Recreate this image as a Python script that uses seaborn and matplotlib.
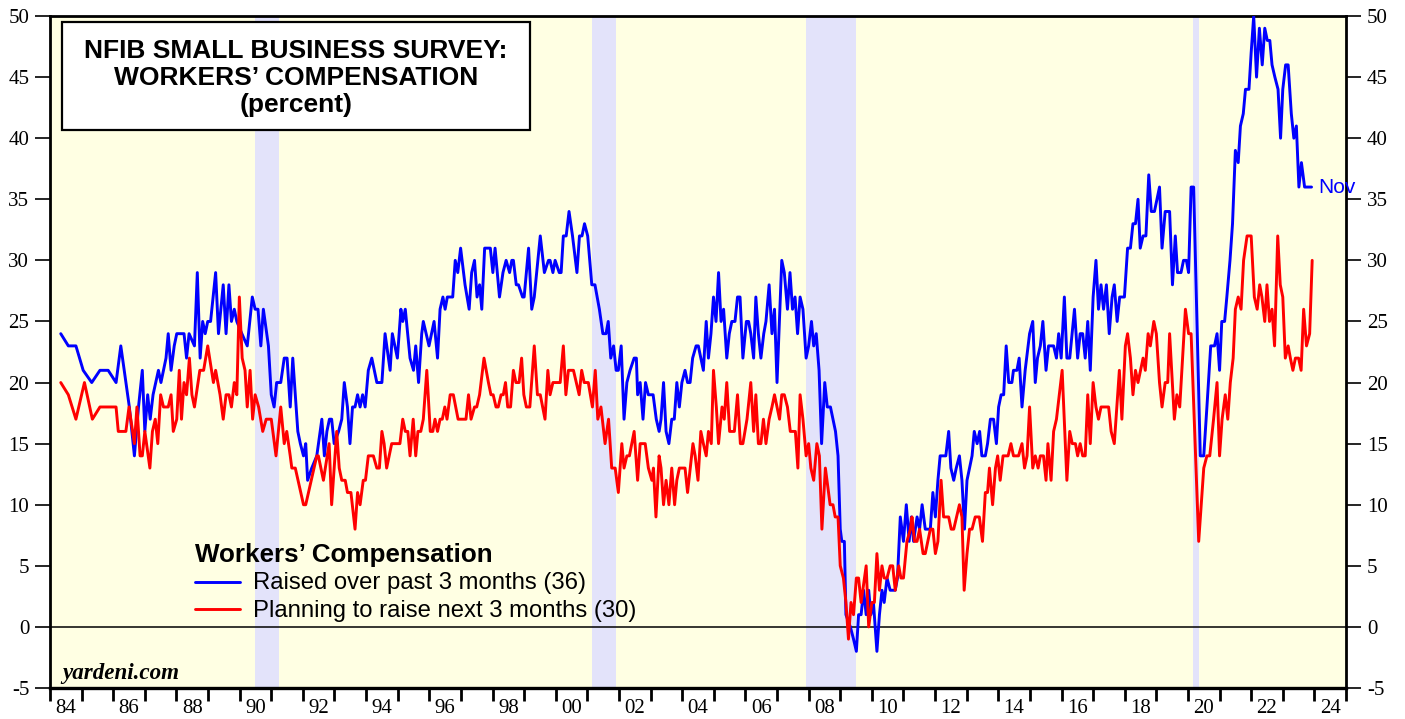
import numpy as np
import pandas as pd
import matplotlib
matplotlib.use("Agg")
import matplotlib.pyplot as plt
import matplotlib.patches as mpatches
from matplotlib.lines import Line2D
import seaborn as sns

# ---------------- data ----------------
blue_t = [
    1984.34, 1984.58, 1984.82, 1985.05, 1985.32, 1985.58, 1985.84, 1986.09, 1986.24, 1986.51,
    1986.67, 1986.80, 1986.92, 1987.00, 1987.09, 1987.17, 1987.26, 1987.43, 1987.51, 1987.67,
    1987.74, 1987.83, 1987.93, 1988.01, 1988.24, 1988.32, 1988.40, 1988.57, 1988.66, 1988.75,
    1988.83, 1988.91, 1988.99, 1989.08, 1989.24, 1989.33, 1989.48, 1989.57, 1989.66, 1989.74,
    1989.83, 1989.91, 1990.07, 1990.24, 1990.40, 1990.49, 1990.58, 1990.67, 1990.75, 1990.91,
    1991.00, 1991.09, 1991.17, 1991.30, 1991.41, 1991.50, 1991.60, 1991.68, 1991.84, 1991.92,
    1992.02, 1992.09, 1992.15, 1992.28, 1992.44, 1992.60, 1992.68, 1992.76, 1992.84, 1992.91,
    1992.99, 1993.13, 1993.23, 1993.31, 1993.41, 1993.49, 1993.57, 1993.65, 1993.73, 1993.81,
    1993.89, 1993.97, 1994.07, 1994.18, 1994.34, 1994.50, 1994.60, 1994.76, 1994.83, 1994.99,
    1995.10, 1995.16, 1995.24, 1995.39, 1995.50, 1995.57, 1995.66, 1995.76, 1995.81, 1995.99,
    1996.15, 1996.26, 1996.34, 1996.43, 1996.50, 1996.57, 1996.74, 1996.82, 1996.90, 1996.99,
    1997.13, 1997.26, 1997.34, 1997.43, 1997.51, 1997.59, 1997.66, 1997.75, 1997.93, 1998.01,
    1998.08, 1998.22, 1998.33, 1998.43, 1998.54, 1998.61, 1998.66, 1998.75, 1998.82, 1998.95,
    1999.00, 1999.14, 1999.24, 1999.32, 1999.51, 1999.64, 1999.77, 1999.82, 1999.91, 1999.98,
    2000.11, 2000.17, 2000.24, 2000.33, 2000.42, 2000.53, 2000.67, 2000.75, 2000.83, 2000.91,
    2001.01, 2001.14, 2001.24, 2001.38, 2001.49, 2001.59, 2001.66, 2001.74, 2001.83, 2001.91,
    2001.98, 2002.07, 2002.16, 2002.25, 2002.35, 2002.48, 2002.55, 2002.59, 2002.67, 2002.76,
    2002.84, 2002.93, 2003.08, 2003.18, 2003.27, 2003.33, 2003.41, 2003.49, 2003.58, 2003.67,
    2003.75, 2003.83, 2003.91, 2003.99, 2004.09, 2004.17, 2004.25, 2004.33, 2004.44, 2004.51,
    2004.59, 2004.67, 2004.76, 2004.83, 2004.91, 2004.99, 2005.07, 2005.15, 2005.23, 2005.31,
    2005.41, 2005.49, 2005.57, 2005.67, 2005.75, 2005.83, 2005.92, 2006.03, 2006.10, 2006.17,
    2006.26, 2006.33, 2006.41, 2006.49, 2006.58, 2006.65, 2006.75, 2006.84, 2006.92, 2007.00,
    2007.15, 2007.23, 2007.33, 2007.41, 2007.49, 2007.57, 2007.65, 2007.73, 2007.82, 2007.92,
    2008.00, 2008.09, 2008.16, 2008.24, 2008.33, 2008.41, 2008.51, 2008.59, 2008.69, 2008.77,
    2008.85, 2008.93, 2009.00, 2009.05, 2009.13, 2009.18, 2009.32, 2009.42, 2009.51, 2009.58,
    2009.66, 2009.74, 2009.82, 2009.90, 2009.97, 2010.05, 2010.16, 2010.24, 2010.32, 2010.39,
    2010.48, 2010.58, 2010.74, 2010.81, 2010.90, 2011.00, 2011.09, 2011.18, 2011.25, 2011.32,
    2011.43, 2011.51, 2011.59, 2011.69, 2011.85, 2011.93, 2012.01, 2012.09, 2012.16, 2012.34,
    2012.43, 2012.50, 2012.59, 2012.67, 2012.77, 2012.85, 2012.93, 2013.01, 2013.09, 2013.17,
    2013.24, 2013.33, 2013.41, 2013.48, 2013.59, 2013.66, 2013.75, 2013.85, 2013.94, 2014.01,
    2014.09, 2014.17, 2014.25, 2014.33, 2014.43, 2014.48, 2014.59, 2014.66, 2014.75, 2014.85,
    2014.99, 2015.09, 2015.17, 2015.24, 2015.33, 2015.41, 2015.51, 2015.59, 2015.75, 2015.84,
    2015.91, 2015.99, 2016.09, 2016.17, 2016.26, 2016.41, 2016.51, 2016.59, 2016.67, 2016.75,
    2016.83, 2016.91, 2017.00, 2017.09, 2017.17, 2017.25, 2017.33, 2017.42, 2017.51, 2017.60,
    2017.67, 2017.76, 2017.84, 2017.99, 2018.09, 2018.18, 2018.26, 2018.34, 2018.42, 2018.49,
    2018.58, 2018.67, 2018.76, 2018.84, 2018.94, 2019.10, 2019.18, 2019.28, 2019.42, 2019.51,
    2019.60, 2019.67, 2019.78, 2019.86, 2019.95, 2020.02, 2020.10, 2020.18, 2020.39, 2020.50,
    2020.60, 2020.72, 2020.84, 2020.92, 2021.00, 2021.07, 2021.16, 2021.23, 2021.33, 2021.41,
    2021.50, 2021.59, 2021.66, 2021.75, 2021.82, 2021.93, 2022.00, 2022.08, 2022.17, 2022.26,
    2022.35, 2022.43, 2022.51, 2022.59, 2022.66, 2022.75, 2022.85, 2022.93, 2023.00, 2023.09,
    2023.17, 2023.27, 2023.35, 2023.43, 2023.51, 2023.59, 2023.69, 2023.78, 2023.91,
]
blue_v = [
    24, 23, 23, 21, 20, 21, 21, 20, 23, 18,
    14, 18, 21, 16, 19, 17, 19, 21, 20, 22,
    24, 21, 23, 24, 24, 22, 24, 23, 29, 22,
    25, 24, 25, 25, 29, 24, 28, 24, 28, 25,
    26, 25, 24, 23, 27, 26, 26, 23, 26, 23,
    19, 18, 20, 20, 22, 22, 18, 22, 16, 15,
    14, 15, 12, 13, 14, 17, 14, 16, 17, 17,
    15, 16, 17, 20, 18, 15, 18, 18, 19, 18,
    19, 18, 21, 22, 20, 20, 24, 21, 24, 22,
    26, 25, 26, 22, 21, 23, 20, 24, 25, 23,
    25, 22, 26, 27, 26, 27, 27, 30, 29, 31,
    28, 26, 29, 30, 27, 28, 26, 31, 31, 29,
    31, 27, 29, 30, 29, 30, 30, 28, 28, 27,
    27, 31, 26, 27, 32, 29, 30, 30, 29, 30,
    29, 29, 32, 32, 34, 32, 29, 32, 32, 33,
    32, 28, 28, 26, 24, 24, 25, 22, 23, 21,
    21, 23, 17, 20, 21, 22, 22, 19, 20, 17,
    20, 19, 19, 17, 16, 17, 20, 16, 15, 17,
    17, 20, 18, 20, 21, 20, 20, 22, 23, 23,
    22, 21, 25, 22, 24, 27, 25, 29, 25, 26,
    22, 24, 25, 25, 27, 27, 22, 25, 25, 24,
    22, 27, 24, 22, 24, 25, 28, 24, 26, 20,
    30, 29, 26, 29, 26, 27, 24, 27, 26, 22,
    23, 25, 23, 24, 21, 15, 20, 18, 18, 17,
    16, 14, 8, 7, 7, 1, 0, -1, -2, 1,
    1, 3, 1, 3, 1, 2, -2, 1, 3, 2,
    4, 3, 3, 4, 9, 7, 10, 7, 9, 7,
    9, 8, 10, 8, 8, 11, 9, 12, 14, 14,
    16, 13, 12, 13, 14, 12, 8, 12, 13, 14,
    16, 15, 16, 14, 14, 15, 17, 17, 15, 18,
    19, 19, 23, 20, 20, 21, 21, 22, 18, 21,
    24, 25, 20, 22, 23, 25, 21, 23, 23, 22,
    24, 22, 27, 22, 22, 26, 22, 24, 24, 22,
    25, 21, 27, 30, 26, 28, 26, 28, 24, 27,
    28, 25, 27, 27, 31, 31, 33, 33, 35, 31,
    32, 32, 37, 34, 34, 36, 31, 34, 34, 28,
    32, 29, 29, 30, 30, 29, 36, 36, 14, 14,
    18, 23, 23, 24, 21, 25, 25, 27, 30, 33,
    39, 38, 41, 42, 44, 44, 47, 50, 45, 49,
    46, 49, 48, 48, 46, 45, 44, 40, 44, 46,
    46, 42, 40, 41, 36, 38, 36, 36, 36,
]

red_t = [
    1984.34, 1984.58, 1984.82, 1985.09, 1985.34, 1985.58, 1985.84, 1986.09, 1986.16, 1986.40,
    1986.50, 1986.67, 1986.75, 1986.85, 1986.92, 1987.00, 1987.16, 1987.24, 1987.33, 1987.41,
    1987.50, 1987.59, 1987.74, 1987.83, 1987.90, 1988.01, 1988.09, 1988.16, 1988.24, 1988.32,
    1988.41, 1988.49, 1988.57, 1988.74, 1988.86, 1988.99, 1989.17, 1989.24, 1989.38, 1989.48,
    1989.57, 1989.66, 1989.74, 1989.83, 1989.91, 1989.99, 1990.08, 1990.17, 1990.24, 1990.33,
    1990.41, 1990.49, 1990.60, 1990.73, 1990.84, 1991.00, 1991.15, 1991.30, 1991.41, 1991.49,
    1991.60, 1991.65, 1991.76, 1992.02, 1992.09, 1992.44, 1992.49, 1992.65, 1992.83, 1992.91,
    1993.07, 1993.15, 1993.23, 1993.34, 1993.41, 1993.52, 1993.65, 1993.73, 1993.81, 1993.91,
    1993.98, 1994.07, 1994.23, 1994.34, 1994.42, 1994.50, 1994.57, 1994.65, 1994.81, 1994.91,
    1995.07, 1995.16, 1995.24, 1995.32, 1995.39, 1995.49, 1995.57, 1995.64, 1995.73, 1995.81,
    1995.92, 1996.03, 1996.11, 1996.18, 1996.26, 1996.34, 1996.41, 1996.49, 1996.56, 1996.66,
    1996.76, 1996.91, 1997.16, 1997.24, 1997.32, 1997.43, 1997.50, 1997.59, 1997.73, 1997.87,
    1997.95, 1998.02, 1998.11, 1998.18, 1998.27, 1998.34, 1998.41, 1998.48, 1998.57, 1998.66,
    1998.74, 1998.84, 1998.92, 1998.99, 1999.07, 1999.18, 1999.32, 1999.42, 1999.51, 1999.66,
    1999.75, 1999.82, 1999.91, 2000.14, 2000.24, 2000.32, 2000.40, 2000.56, 2000.74, 2000.82,
    2000.90, 2001.03, 2001.16, 2001.25, 2001.33, 2001.43, 2001.56, 2001.67, 2001.77, 2001.88,
    2001.98, 2002.09, 2002.16, 2002.25, 2002.33, 2002.48, 2002.59, 2002.67, 2002.83, 2002.93,
    2003.04, 2003.09, 2003.17, 2003.27, 2003.33, 2003.41, 2003.49, 2003.58, 2003.67, 2003.76,
    2003.83, 2003.91, 2004.09, 2004.17, 2004.34, 2004.41, 2004.50, 2004.59, 2004.67, 2004.76,
    2004.83, 2004.92, 2004.99, 2005.08, 2005.15, 2005.26, 2005.33, 2005.41, 2005.50, 2005.65,
    2005.75, 2005.84, 2005.92, 2006.05, 2006.17, 2006.26, 2006.33, 2006.41, 2006.49, 2006.57,
    2006.65, 2006.75, 2006.84, 2006.92, 2007.08, 2007.15, 2007.23, 2007.33, 2007.42, 2007.58,
    2007.66, 2007.73, 2007.82, 2007.92, 2008.00, 2008.07, 2008.16, 2008.26, 2008.34, 2008.42,
    2008.53, 2008.58, 2008.68, 2008.77, 2008.84, 2008.93, 2009.00, 2009.10, 2009.18, 2009.26,
    2009.34, 2009.42, 2009.51, 2009.58, 2009.66, 2009.82, 2009.90, 2010.00, 2010.08, 2010.16,
    2010.24, 2010.32, 2010.39, 2010.48, 2010.58, 2010.66, 2010.74, 2010.85, 2010.92, 2011.00,
    2011.11, 2011.22, 2011.27, 2011.35, 2011.43, 2011.51, 2011.62, 2011.69, 2011.85, 2011.93,
    2012.01, 2012.09, 2012.19, 2012.27, 2012.34, 2012.43, 2012.51, 2012.59, 2012.77, 2012.85,
    2012.92, 2013.01, 2013.09, 2013.17, 2013.27, 2013.40, 2013.50, 2013.59, 2013.66, 2013.72,
    2013.82, 2013.91, 2013.98, 2014.06, 2014.15, 2014.31, 2014.40, 2014.48, 2014.64, 2014.75,
    2014.83, 2014.91, 2014.99, 2015.09, 2015.17, 2015.26, 2015.33, 2015.43, 2015.51, 2015.57,
    2015.67, 2015.75, 2015.84, 2016.02, 2016.17, 2016.26, 2016.34, 2016.44, 2016.51, 2016.59,
    2016.67, 2016.75, 2016.83, 2016.91, 2017.00, 2017.09, 2017.17, 2017.25, 2017.49, 2017.57,
    2017.67, 2017.83, 2017.91, 2018.02, 2018.09, 2018.18, 2018.26, 2018.34, 2018.42, 2018.58,
    2018.65, 2018.74, 2018.81, 2018.92, 2019.00, 2019.10, 2019.18, 2019.28, 2019.36, 2019.42,
    2019.57, 2019.65, 2019.74, 2019.92, 2020.02, 2020.10, 2020.34, 2020.50, 2020.60, 2020.69,
    2020.81, 2020.92, 2021.00, 2021.08, 2021.18, 2021.26, 2021.34, 2021.43, 2021.50, 2021.59,
    2021.68, 2021.76, 2021.87, 2022.00, 2022.10, 2022.19, 2022.27, 2022.34, 2022.43, 2022.50,
    2022.58, 2022.66, 2022.74, 2022.84, 2022.92, 2023.00, 2023.08, 2023.17, 2023.24, 2023.32,
    2023.40, 2023.50, 2023.58, 2023.66, 2023.75, 2023.85, 2023.93,
]
red_v = [
    20, 19, 17, 20, 17, 18, 18, 18, 16, 16,
    18, 15, 18, 14, 14, 16, 13, 16, 17, 15,
    19, 18, 18, 19, 16, 17, 21, 17, 20, 19,
    22, 19, 18, 21, 21, 23, 20, 21, 19, 17,
    19, 19, 18, 20, 19, 27, 22, 21, 18, 21,
    17, 19, 18, 16, 17, 17, 14, 18, 15, 16,
    14, 13, 13, 10, 10, 14, 14, 12, 15, 10,
    16, 13, 12, 12, 11, 11, 8, 11, 10, 12,
    12, 14, 14, 13, 13, 16, 15, 13, 15, 15,
    15, 17, 16, 16, 14, 17, 14, 16, 16, 17,
    21, 16, 16, 17, 16, 17, 17, 18, 17, 19,
    19, 17, 17, 19, 17, 18, 18, 19, 22, 20,
    19, 19, 18, 18, 19, 19, 20, 18, 18, 21,
    20, 20, 22, 19, 18, 18, 23, 19, 19, 17,
    21, 19, 20, 20, 23, 19, 21, 21, 19, 21,
    20, 20, 18, 21, 17, 18, 15, 17, 13, 13,
    11, 15, 13, 14, 14, 16, 12, 15, 15, 13,
    12, 13, 9, 14, 13, 10, 12, 10, 13, 10,
    12, 13, 13, 11, 15, 14, 12, 16, 15, 14,
    16, 15, 21, 18, 15, 18, 17, 20, 16, 16,
    19, 15, 15, 17, 20, 16, 19, 15, 15, 17,
    15, 17, 18, 19, 17, 19, 19, 18, 16, 16,
    13, 19, 17, 14, 15, 13, 12, 15, 14, 8,
    13, 12, 10, 10, 9, 9, 5, 4, 2, -1,
    2, 1, 4, 4, 2, 5, 0, 2, 2, 6,
    3, 5, 4, 4, 5, 5, 3, 5, 4, 4,
    7, 8, 9, 7, 7, 8, 6, 6, 8, 8,
    6, 7, 12, 9, 9, 9, 8, 8, 10, 9,
    3, 6, 8, 8, 9, 9, 7, 11, 11, 13,
    10, 13, 14, 12, 14, 14, 15, 14, 14, 15,
    13, 14, 18, 13, 14, 13, 14, 14, 12, 15,
    12, 16, 17, 21, 12, 16, 15, 15, 14, 15,
    14, 14, 19, 15, 20, 18, 17, 18, 18, 16,
    15, 21, 17, 23, 24, 22, 19, 21, 20, 22,
    21, 24, 23, 25, 24, 20, 18, 20, 20, 24,
    17, 19, 18, 26, 24, 24, 7, 13, 14, 14,
    17, 20, 14, 17, 19, 17, 20, 22, 26, 27,
    26, 30, 32, 32, 27, 26, 28, 27, 25, 28,
    25, 26, 23, 32, 28, 27, 22, 23, 22, 21,
    22, 22, 21, 26, 23, 24, 30,
]

recession_start = [1990.50, 2001.15, 2007.92, 2020.17]
recession_end = [1991.25, 2001.91, 2009.50, 2020.36]

series_names = ["Raised over past 3 months (36)", "Planning to raise next 3 months (30)"]
year_labels = ["84", "86", "88", "90", "92", "94", "96", "98", "00", "02", "04",
               "06", "08", "10", "12", "14", "16", "18", "20", "22", "24"]
y_ticks = [-5, 0, 5, 10, 15, 20, 25, 30, 35, 40, 45, 50]

# ---------------- styling ----------------
sns.set_theme(style="white")
plt.rcParams["font.family"] = ["Liberation Sans", "DejaVu Sans"]
plt.rcParams["axes.unicode_minus"] = False
plt.rcParams["text.color"] = "black"
plt.rcParams["axes.labelcolor"] = "black"
plt.rcParams["xtick.color"] = "black"
plt.rcParams["ytick.color"] = "black"
plt.rcParams["xtick.labelcolor"] = "black"
plt.rcParams["ytick.labelcolor"] = "black"

W, H = 1405, 719
fig = plt.figure(figsize=(W / 100, H / 100), dpi=100)
fig.patch.set_facecolor("white")
L, R, T, B = 50, 1346, 16, 688
ax = fig.add_axes([L / W, 1 - B / H, (R - L) / W, (B - T) / H])
ax.set_facecolor("#FFFFE3")

for s, e in zip(recession_start, recession_end):
    ax.axvspan(s, e, color="#E3E3FA", lw=0, zorder=0.5)

ax.axhline(0, color="black", lw=1.1, zorder=1)

df = pd.concat([
    pd.DataFrame({"year": blue_t, "value": blue_v, "series": series_names[0]}),
    pd.DataFrame({"year": red_t, "value": red_v, "series": series_names[1]}),
])
palette = {series_names[0]: "#0000FF", series_names[1]: "#FF0000"}
sns.lineplot(data=df, x="year", y="value", hue="series", palette=palette,
             estimator=None, sort=False, legend=False, lw=2.1, ax=ax, zorder=3)

ax.set_xlim(1984, 2025)
ax.set_ylim(-5, 50)
ax.set_xlabel("")
ax.set_ylabel("")

# x ticks: marks every year, labels centred in the even years
ax.set_xticks(list(range(1984, 2026)))
ax.set_xticklabels([])
ax.set_xticks([1984.5 + 2 * i for i in range(len(year_labels))], minor=True)
ax.set_xticklabels(year_labels, minor=True, family="Liberation Serif", fontsize=15,
                   color="black")
ax.tick_params(axis="x", which="major", direction="out", length=9.5, width=2,
               color="black", bottom=True)
ax.tick_params(axis="x", which="minor", length=0, pad=8, bottom=True, labelcolor="black")

ax.set_yticks(y_ticks)
ax.set_yticklabels([str(v) for v in y_ticks], family="Liberation Serif", fontsize=15,
                   color="black")
ax.tick_params(axis="y", which="major", direction="out", length=11, width=1.2,
               color="black", left=True, right=True, labelleft=True, labelright=True,
               pad=4, labelcolor="black")
for lab in ax.yaxis.get_ticklabels(which="major"):
    lab.set_family("Liberation Serif")
    lab.set_fontsize(15)

for sp in ax.spines.values():
    sp.set_visible(True)
    sp.set_color("black")
    sp.set_linewidth(2.0)
ax.spines["bottom"].set_linewidth(2.4)
ax.grid(False)

# ---------------- annotations ----------------
def fx(px):
    return px / W

def fy(py):
    return 1 - py / H

box = mpatches.Rectangle((fx(62), fy(130)), (530 - 62) / W, (130 - 22) / H,
                         transform=fig.transFigure, facecolor="white",
                         edgecolor="black", lw=1.6, zorder=5)
fig.patches.append(box)
for txt, py in [("NFIB SMALL BUSINESS SURVEY:", 51), ("WORKERS\u2019 COMPENSATION", 78),
                ("(percent)", 105)]:
    fig.text(fx(296), fy(py), txt, ha="center", va="center", fontsize=19,
             fontweight="bold", family="Liberation Sans", color="black", zorder=6)

fig.text(fx(195), fy(555), "Workers\u2019 Compensation", ha="left", va="center",
         fontsize=18.7, fontweight="bold", family="Liberation Sans", color="black")
for py, col, name in [(582, "#0000FF", series_names[0]), (609, "#FF0000", series_names[1])]:
    fig.lines.append(Line2D([fx(195), fx(240)], [fy(py), fy(py)], color=col, lw=2.1,
                            transform=fig.transFigure))
    fig.text(fx(253), fy(py + 1.5), name, ha="left", va="center", fontsize=17.2,
             family="Liberation Sans", color="black")

fig.text(fx(62), fy(673), "yardeni.com", ha="left", va="center", fontsize=16.6,
         fontweight="bold", fontstyle="italic", family="Liberation Serif", color="black")

ax.text(blue_t[-1] + 0.22, blue_v[-1], "Nov", color="#0000FF", fontsize=15,
        family="Liberation Sans", ha="left", va="center", zorder=6)

fig.savefig("out.png", dpi=100, facecolor="white")
